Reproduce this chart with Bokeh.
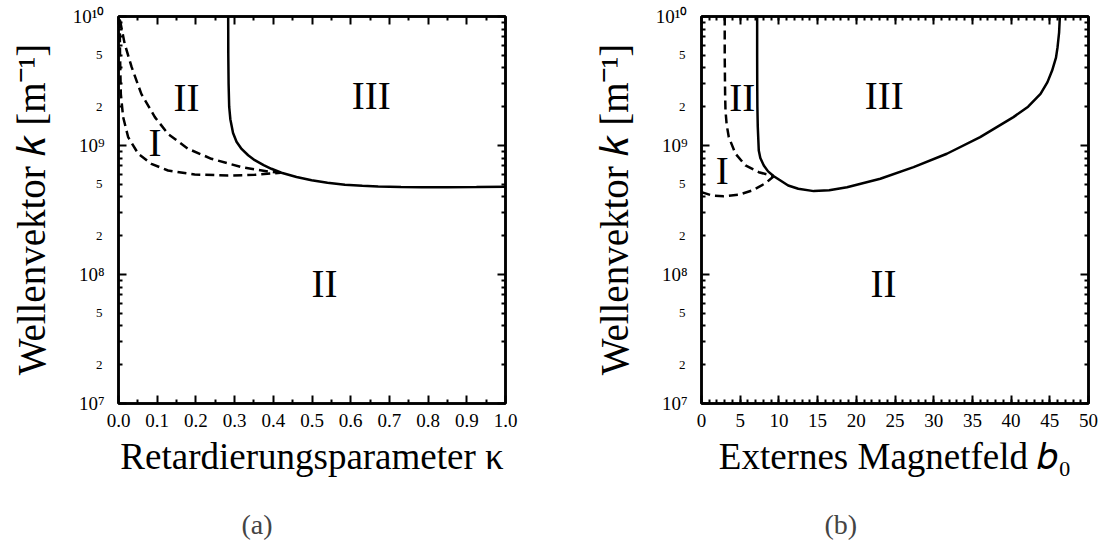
from bokeh.plotting import figure
from bokeh.layouts import row
from bokeh.models import FixedTicker, LinearAxis, LogAxis, Title, Range1d
from bokeh.core.properties import value
from bokeh.embed import file_html
from bokeh.resources import INLINE

FONT = "Liberation Serif"

# ---------------- data: panel (a) ----------------
kappa_solid = [0.2834, 0.2837, 0.2845, 0.286, 0.289, 0.296, 0.305, 0.318, 0.335, 0.352,
               0.375, 0.395, 0.421, 0.46, 0.499, 0.54, 0.585, 0.63, 0.671, 0.73,
               0.783, 0.85, 0.925, 1.0]
k_solid_a = [1.0e10, 5.0e9, 3.0e9, 2.0e9, 1.6e9, 1.25e9, 1.07e9, 9.4e8, 8.4e8, 7.7e8,
             7.05e8, 6.6e8, 6.15e8, 5.7e8, 5.38e8, 5.15e8, 4.97e8, 4.87e8, 4.81e8, 4.77e8,
             4.75e8, 4.75e8, 4.76e8, 4.79e8]

kappa_dash_upper = [0.004, 0.016, 0.034, 0.059, 0.094, 0.128, 0.180, 0.240, 0.318, 0.387, 0.419]
k_dash_upper_a = [9.3e9, 6.14e9, 4.05e9, 2.51e9, 1.66e9, 1.23e9, 9.42e8, 7.89e8, 6.79e8, 6.28e8, 6.14e8]

kappa_dash_lower = [0.003, 0.004, 0.005, 0.006, 0.012, 0.025, 0.051, 0.085, 0.128, 0.197,
                    0.283, 0.352, 0.419]
k_dash_lower_a = [9.5e9, 5.0e9, 3.5e9, 2.51e9, 1.66e9, 1.16e9, 8.63e8, 7.21e8, 6.4e8, 5.96e8,
                  5.85e8, 5.93e8, 6.14e8]

region_text_a = ["II", "I", "III", "II"]
region_x_a = [0.176, 0.094, 0.653, 0.532]
region_y_a = [2.37e9, 1.06e9, 2.45e9, 8.5e7]

# ---------------- data: panel (b) ----------------
b0_solid = [7.19, 7.19, 7.2, 7.22, 7.27, 7.4, 7.6, 8.05, 8.6, 9.34, 10.2, 11.2, 12.5, 14.5,
            16.5, 18.8, 23.1, 27.4, 31.7, 36.0, 40.3, 42.2, 43.8, 44.7, 45.3, 45.8, 46.0,
            46.2, 46.3]
k_solid_b = [1.0e10, 5.0e9, 3.0e9, 2.0e9, 1.4e9, 9.14e8, 8.0e8, 7.0e8, 6.3e8, 5.78e8, 5.36e8,
             4.9e8, 4.62e8, 4.43e8, 4.5e8, 4.75e8, 5.52e8, 6.79e8, 8.63e8, 1.16e9, 1.66e9,
             2.0e9, 2.51e9, 3.1e9, 3.81e9, 4.8e9, 5.78e9, 7.5e9, 1.0e10]

b0_dash_upper = [3.0, 3.0, 3.05, 3.1, 3.25, 3.53, 4.39, 5.68, 7.4, 9.34]
k_dash_upper_b = [1.0e10, 5.0e9, 2.5e9, 1.87e9, 1.45e9, 1.16e9, 8.63e8, 7.0e8, 6.21e8, 5.78e8]

b0_dash_lower = [0.0, 1.38, 2.88, 4.82, 6.55, 8.27, 9.34]
k_dash_lower_b = [4.35e8, 4.09e8, 4.05e8, 4.15e8, 4.48e8, 5.1e8, 5.78e8]

region_text_b = ["II", "I", "III", "II"]
region_x_b = [5.26, 2.67, 23.6, 23.5]
region_y_b = [2.37e9, 6.4e8, 2.45e9, 8.5e7]

# ---------------- ticks ----------------
y_decades = [1e7, 1e8, 1e9, 1e10]
y_decade_labels = ["10\u2077", "10\u2078", "10\u2079", "10\u00b9\u2070"]
y_mid = [2e7, 5e7, 2e8, 5e8, 2e9, 5e9]
y_mid_labels = ["2", "5", "2", "5", "2", "5"]
y_minor = [2e7, 3e7, 4e7, 5e7, 6e7, 7e7, 8e7, 9e7,
           2e8, 3e8, 4e8, 5e8, 6e8, 7e8, 8e8, 9e8,
           2e9, 3e9, 4e9, 5e9, 6e9, 7e9, 8e9, 9e9]

x_ticks_a = [0.0, 0.1, 0.2, 0.3, 0.4, 0.5, 0.6, 0.7, 0.8, 0.9, 1.0]
x_labels_a = ["0.0", "0.1", "0.2", "0.3", "0.4", "0.5", "0.6", "0.7", "0.8", "0.9", "1.0"]
x_minor_a = [0.05, 0.15, 0.25, 0.35, 0.45, 0.55, 0.65, 0.75, 0.85, 0.95]

x_ticks_b = [0, 5, 10, 15, 20, 25, 30, 35, 40, 45, 50]
x_labels_b = ["0", "5", "10", "15", "20", "25", "30", "35", "40", "45", "50"]
x_minor_b = list(range(0, 51))


def style_axis(ax, show_labels):
    ax.axis_line_width = 2.5
    ax.axis_line_color = "black"
    ax.major_tick_in = 8
    ax.major_tick_out = 0
    ax.minor_tick_in = 4
    ax.minor_tick_out = 0
    ax.major_tick_line_width = 2
    ax.minor_tick_line_width = 2
    ax.major_tick_line_color = "black"
    ax.minor_tick_line_color = "black"
    if show_labels:
        ax.major_label_text_font = FONT
        ax.major_label_text_font_size = "19px"
        ax.major_label_text_color = "black"
        ax.axis_label_text_font = FONT
        ax.axis_label_text_font_size = "37px"
        ax.axis_label_text_font_style = "normal"
        ax.axis_label_text_color = "black"
    else:
        ax.major_label_text_font_size = "1px"
        ax.major_label_text_alpha = 0
        ax.major_label_standoff = 0


def make_panel(x_start, x_end, xt, xl, xm, xlabel, ylabel, left_border, right_border,
               caption, curves, rtext, rx, ry):
    p = figure(frame_width=387, frame_height=387,
               x_range=Range1d(x_start, x_end), y_range=Range1d(1e7, 1e10),
               y_axis_type="log", output_backend="svg", toolbar_location=None,
               min_border_left=left_border, min_border_right=right_border,
               min_border_top=16, min_border_bottom=144)
    p.grid.visible = False
    p.outline_line_color = "black"
    p.outline_line_width = 2.5
    p.background_fill_color = "white"
    p.border_fill_color = "white"

    xax = p.xaxis[0]
    xax.ticker = FixedTicker(ticks=xt, minor_ticks=xm)
    xax.major_label_overrides = {t: l for t, l in zip(xt, xl)}
    style_axis(xax, True)
    xax.major_label_standoff = 10
    xax.axis_label = xlabel
    xax.axis_label_standoff = 6

    # inner left axis: frame line, ticks, decade labels
    yax = p.yaxis[0]
    yax.ticker = FixedTicker(ticks=y_decades, minor_ticks=y_minor)
    yax.major_label_overrides = {t: l for t, l in zip(y_decades, y_decade_labels)}
    style_axis(yax, True)
    yax.major_label_standoff = 14

    # outer left axis: small "2"/"5" labels pulled back next to the frame, plus title
    mid = LogAxis(ticker=FixedTicker(ticks=y_mid, minor_ticks=[]))
    mid.major_label_overrides = {t: l for t, l in zip(y_mid, y_mid_labels)}
    mid.axis_line_color = None
    mid.major_tick_line_color = None
    mid.minor_tick_line_color = None
    mid.major_tick_out = 0
    mid.major_tick_in = 0
    mid.minor_tick_out = 0
    mid.minor_tick_in = 0
    mid.major_label_standoff = -33
    mid.major_label_text_font = FONT
    mid.major_label_text_font_size = "13px"
    mid.major_label_text_color = "black"
    mid.axis_label = ylabel
    mid.axis_label_text_font = FONT
    mid.axis_label_text_font_size = "39px"
    mid.axis_label_text_font_style = "normal"
    mid.axis_label_text_color = "black"
    mid.axis_label_standoff = 40
    p.add_layout(mid, "left")

    top = LinearAxis(ticker=FixedTicker(ticks=xt, minor_ticks=xm))
    style_axis(top, False)
    p.add_layout(top, "above")
    right = LogAxis(ticker=FixedTicker(ticks=y_decades, minor_ticks=y_minor))
    style_axis(right, False)
    p.add_layout(right, "right")

    for xs, ys, dash in curves:
        p.line(xs, ys, line_color="black", line_width=2.5, line_dash=dash)

    p.text(x=rx, y=ry, text=rtext, text_font=value(FONT), text_font_size="39px",
           text_align="center", text_baseline="middle", text_color="black")

    cap = Title(text=caption, align="left", offset=123,
                text_font=FONT, text_font_size="28px", text_font_style="normal",
                standoff=54)
    p.add_layout(cap, "below")
    return p


pa = make_panel(0.0, 1.0, x_ticks_a, x_labels_a, x_minor_a,
                "Retardierungsparameter \u03ba", "Wellenvektor \U0001D458 [m\u207b\u00b9]",
                118, 48, "(a)",
                [(kappa_solid, k_solid_a, "solid"),
                 (kappa_dash_upper, k_dash_upper_a, "9 5"),
                 (kappa_dash_lower, k_dash_lower_a, "9 5")],
                region_text_a, region_x_a, region_y_a)

pb = make_panel(0, 50, x_ticks_b, x_labels_b, x_minor_b,
                "Externes Magnetfeld \U0001D44F\u2080", "Wellenvektor \U0001D458 [m\u207b\u00b9]",
                148, 17, "(b)",
                [(b0_solid, k_solid_b, "solid"),
                 (b0_dash_upper, k_dash_upper_b, "9 5"),
                 (b0_dash_lower, k_dash_lower_b, "9 5")],
                region_text_b, region_x_b, region_y_b)

layout = row(pa, pb)
open("out.html", "w").write(file_html(layout, INLINE))
